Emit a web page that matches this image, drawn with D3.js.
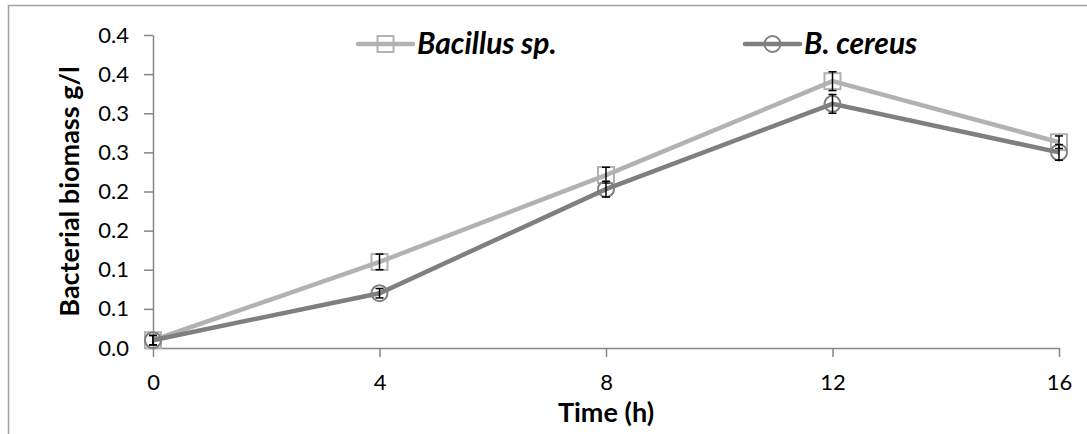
<!DOCTYPE html>
<html>
<head>
<meta charset="utf-8">
<script src="https://cdn.jsdelivr.net/npm/d3@7"></script>
<style>
  body { margin: 0; background: #fff; }
  text { font-family: Lato, "Open Sans", sans-serif; }
</style>
</head>
<body>
<div id="chart"></div>
<script>
// Chart data
const hours = [0, 4, 8, 12, 16];
const bacillus = [0.010, 0.110, 0.221, 0.341, 0.263];
const bacillusErr = [0.006, 0.010, 0.010, 0.012, 0.008];
const cereus = [0.010, 0.070, 0.203, 0.312, 0.250];
const cereusErr = [0.006, 0.006, 0.010, 0.012, 0.010];
const yTicks = [0, 0.05, 0.10, 0.15, 0.20, 0.25, 0.30, 0.35, 0.40];
const yTickLabels = ["0.0", "0.1", "0.1", "0.2", "0.2", "0.3", "0.3", "0.4", "0.4"];
const xTicks = [0, 4, 8, 12, 16];

const width = 1087, height = 434;
const margin = { top: 35, right: 28, bottom: 86, left: 153 };

const svg = d3.select("#chart").append("svg")
    .attr("width", width)
    .attr("height", height);

// outer frame (only top and left edge are visible in the crop)
svg.append("path")
    .attr("d", `M8.5,${height} V5.5 H${width}`)
    .attr("fill", "none")
    .attr("stroke", "#a0a0a0")
    .attr("stroke-width", 1.5);

const x = d3.scaleLinear().domain([0, 16]).range([margin.left, width - margin.right]);
const y = d3.scaleLinear().domain([0, 0.4]).range([height - margin.bottom, margin.top]);

const axisColor = "#868686";

const yAxis = svg.append("g")
    .attr("transform", `translate(${margin.left},0)`)
    .call(d3.axisLeft(y).tickValues(yTicks)
        .tickFormat((d, i) => yTickLabels[i])
        .tickSize(9).tickSizeOuter(0).tickPadding(15));

const xAxis = svg.append("g")
    .attr("transform", `translate(0,${height - margin.bottom})`)
    .call(d3.axisBottom(x).tickValues(xTicks)
        .tickSize(9).tickSizeOuter(0).tickPadding(17));

[yAxis, xAxis].forEach(g => {
    g.selectAll("path.domain").attr("stroke", axisColor).attr("stroke-width", 1.5);
    g.selectAll(".tick line").attr("stroke", axisColor).attr("stroke-width", 1.5);
    g.selectAll(".tick text").attr("fill", "#000").style("font-size", "22px");
});

// axis titles
svg.append("text")
    .attr("x", x(8))
    .attr("y", 422)
    .attr("text-anchor", "middle")
    .style("font-size", "27px")
    .style("font-weight", "bold")
    .text("Time (h)");

svg.append("text")
    .attr("transform", `translate(79,${(y(0) + y(0.4)) / 2}) rotate(-90)`)
    .attr("text-anchor", "middle")
    .style("font-size", "27px")
    .style("font-weight", "bold")
    .text("Bacterial biomass g/l");

const series = [
    { name: "Bacillus sp.", values: bacillus, err: bacillusErr, color: "#b2b2b2", shape: "square", legendX: 358 },
    { name: "B. cereus", values: cereus, err: cereusErr, color: "#7f7f7f", shape: "circle", legendX: 745 }
];

const line = d3.line()
    .x((d, i) => x(hours[i]))
    .y(d => y(d));

function drawMarker(g, shape, cx, cy, color) {
    if (shape === "square") {
        g.append("rect")
            .attr("x", cx - 8).attr("y", cy - 8)
            .attr("width", 16).attr("height", 16)
            .attr("fill", "none")
            .attr("stroke", color)
            .attr("stroke-width", 2);
    } else {
        g.append("circle")
            .attr("cx", cx).attr("cy", cy).attr("r", 8)
            .attr("fill", "none")
            .attr("stroke", color)
            .attr("stroke-width", 2);
    }
}

series.forEach(s => {
    const g = svg.append("g");
    g.append("path")
        .attr("d", line(s.values))
        .attr("fill", "none")
        .attr("stroke", s.color)
        .attr("stroke-width", 4.5);

    s.values.forEach((v, i) => {
        drawMarker(g, s.shape, x(hours[i]), y(v), s.color);
    });

    // error bars
    s.values.forEach((v, i) => {
        const cx = x(hours[i]);
        const y1 = y(v - s.err[i]), y2 = y(v + s.err[i]);
        g.append("line").attr("x1", cx).attr("x2", cx).attr("y1", y1).attr("y2", y2)
            .attr("stroke", "#000").attr("stroke-width", 1.5);
        [y1, y2].forEach(yy => {
            g.append("line").attr("x1", cx - 4).attr("x2", cx + 4).attr("y1", yy).attr("y2", yy)
                .attr("stroke", "#000").attr("stroke-width", 1.5);
        });
    });

    // legend
    const ly = 44;
    const lg = svg.append("g");
    lg.append("line")
        .attr("x1", s.legendX).attr("x2", s.legendX + 55)
        .attr("y1", ly).attr("y2", ly)
        .attr("stroke", s.color).attr("stroke-width", 4.5)
        .attr("stroke-linecap", "round");
    drawMarker(lg, s.shape, s.legendX + 27.5, ly, s.color);
    lg.append("text")
        .attr("x", s.legendX + 59)
        .attr("y", ly + 10)
        .style("font-size", "30px")
        .style("font-weight", "bold")
        .style("font-style", "italic")
        .text(s.name);
});
</script>
</body>
</html>
